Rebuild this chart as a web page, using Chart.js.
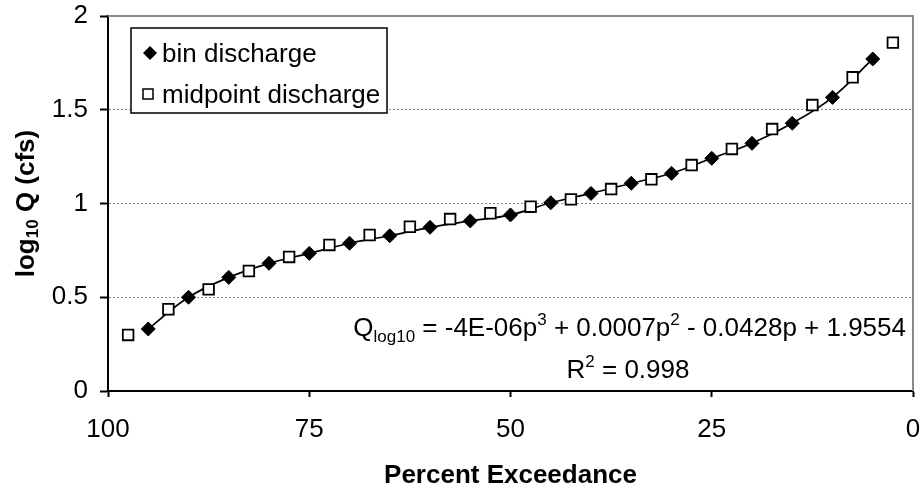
<!DOCTYPE html>
<html>
<head>
<meta charset="utf-8">
<script src="https://cdn.jsdelivr.net/npm/chart.js@4.4.1/dist/chart.umd.min.js"></script>
<style>
  html, body { margin: 0; padding: 0; background: #fff; }
  #wrap { width: 924px; height: 486px; }
</style>
</head>
<body>
<div id="wrap"><canvas id="chart" width="924" height="486"></canvas></div>
<script>
const binExceedance = [95, 90, 85, 80, 75, 70, 65, 60, 55, 50, 45, 40, 35, 30, 25, 20, 15, 10, 5];
const binLogQ = [0.331, 0.50, 0.606, 0.681, 0.734, 0.788, 0.828, 0.873, 0.907, 0.939, 1.004, 1.054, 1.108, 1.161, 1.241, 1.321, 1.428, 1.566, 1.771];

const midExceedance = [97.5, 92.5, 87.5, 82.5, 77.5, 72.5, 67.5, 62.5, 57.5, 52.5, 47.5, 42.5, 37.5, 32.5, 27.5, 22.5, 17.5, 12.5, 7.5, 2.5];
const midLogQ = [0.299, 0.436, 0.542, 0.64, 0.715, 0.779, 0.832, 0.876, 0.917, 0.948, 0.983, 1.022, 1.077, 1.129, 1.205, 1.291, 1.397, 1.525, 1.673, 1.858];

const xTicks = [100, 75, 50, 25, 0];
const yTicks = [0, 0.5, 1, 1.5, 2];

const seriesNames = ['bin discharge', 'midpoint discharge'];

const FONT = '"Liberation Sans", Arial, sans-serif';
const FS = 26;
Chart.defaults.font.family = FONT;
Chart.defaults.font.size = FS;
Chart.defaults.color = '#000';

const toPoints = (xs, ys) => xs.map((x, i) => ({ x: x, y: ys[i] }));

// draws text made of pieces: [text, size, dy, bold]
function drawRich(ctx, parts, x, y, align) {
    let total = 0;
    parts.forEach(p => {
        ctx.font = (p[3] ? 'bold ' : '') + p[1] + 'px ' + FONT;
        total += ctx.measureText(p[0]).width;
    });
    let cx = x;
    if (align === 'right') cx = x - total;
    if (align === 'center') cx = x - total / 2;
    ctx.textAlign = 'left';
    ctx.textBaseline = 'alphabetic';
    parts.forEach(p => {
        ctx.font = (p[3] ? 'bold ' : '') + p[1] + 'px ' + FONT;
        ctx.fillText(p[0], cx, y + p[2]);
        cx += ctx.measureText(p[0]).width;
    });
}

const decorations = {
    id: 'decorations',
    afterDraw(chart) {
        const ctx = chart.ctx;
        const a = chart.chartArea;
        ctx.save();

        // grey frame top/right
        ctx.strokeStyle = '#8a8a8a';
        ctx.lineWidth = 2;
        ctx.beginPath();
        ctx.moveTo(a.left, a.top);
        ctx.lineTo(a.right, a.top);
        ctx.lineTo(a.right, a.bottom);
        ctx.stroke();

        // legend
        const lx = 131, ly = 28, lw = 256, lh = 85;
        ctx.fillStyle = '#fff';
        ctx.fillRect(lx, ly, lw, lh);
        ctx.strokeStyle = '#000';
        ctx.lineWidth = 1.5;
        ctx.strokeRect(lx, ly, lw, lh);

        ctx.fillStyle = '#000';
        ctx.beginPath();
        ctx.moveTo(150, 46); ctx.lineTo(157, 53); ctx.lineTo(150, 60); ctx.lineTo(143, 53);
        ctx.closePath();
        ctx.fill();

        ctx.fillStyle = '#fff';
        ctx.fillRect(143, 89, 10, 10);
        ctx.strokeStyle = '#000';
        ctx.lineWidth = 1.5;
        ctx.strokeRect(143, 89, 10, 10);

        ctx.fillStyle = '#000';
        drawRich(ctx, [[seriesNames[0], FS, 0]], 162, 62, 'left');
        drawRich(ctx, [[seriesNames[1], FS, 0]], 162, 103, 'left');

        // trendline label
        drawRich(ctx, [
            ['Q', FS, 0], ['log10', 17, 6], [' = -4E-06p', FS, 0], ['3', 17, -11],
            [' + 0.0007p', FS, 0], ['2', 17, -11], [' - 0.0428p + 1.9554', FS, 0]
        ], 906, 336, 'right');
        drawRich(ctx, [['R', FS, 0], ['2', 17, -11], [' = 0.998', FS, 0]], 628, 378, 'center');

        // axis titles
        drawRich(ctx, [['Percent Exceedance', FS, 0, true]], (a.left + a.right) / 2, 483, 'center');
        ctx.translate(34, (a.top + a.bottom) / 2);
        ctx.rotate(-Math.PI / 2);
        drawRich(ctx, [['log', FS, 0, true], ['10', 17, 4, true], [' Q (cfs)', FS, 0, true]], 0, 0, 'center');
        ctx.restore();
    }
};

new Chart(document.getElementById('chart'), {
    type: 'scatter',
    data: {
        datasets: [
            {
                label: seriesNames[1],
                data: toPoints(midExceedance, midLogQ),
                showLine: false,
                pointStyle: 'rect',
                pointRadius: 7.5,
                pointBackgroundColor: '#fff',
                pointBorderColor: '#000',
                pointBorderWidth: 1.8,
                order: 0
            },
            {
                label: seriesNames[0],
                data: toPoints(binExceedance, binLogQ),
                showLine: true,
                borderColor: '#000',
                borderWidth: 1.7,
                tension: 0.4,
                pointStyle: 'rectRot',
                pointRadius: 7,
                pointBackgroundColor: '#000',
                pointBorderColor: '#000',
                pointBorderWidth: 1,
                order: 1
            }
        ]
    },
    options: {
        responsive: false,
        animation: false,
        layout: { padding: { left: 0, right: 11, top: 16, bottom: 0 } },
        plugins: {
            legend: { display: false },
            tooltip: { enabled: false }
        },
        scales: {
            x: {
                type: 'linear',
                reverse: true,
                min: 0,
                max: 100,
                afterBuildTicks: s => { s.ticks = xTicks.map(v => ({ value: v })); },
                afterFit: s => { s.height = 95; s.paddingLeft = 0; s.paddingRight = 0; },
                grid: { drawOnChartArea: false, tickLength: 6, tickColor: '#000', tickWidth: 2 },
                border: { display: true, color: '#000', width: 2 },
                ticks: { padding: 17, maxRotation: 0, font: { size: FS } }
            },
            y: {
                min: 0,
                max: 2,
                afterBuildTicks: s => { s.ticks = yTicks.map(v => ({ value: v })); },
                afterFit: s => { s.width = 108; s.paddingTop = 0; s.paddingBottom = 0; },
                grid: { color: '#8a8a8a', lineWidth: 1, tickLength: 8, tickColor: '#000', tickWidth: 2 },
                border: { display: true, color: '#000', width: 2, dash: [2, 2] },
                ticks: { padding: 12, font: { size: FS }, callback: v => String(v) }
            }
        }
    },
    plugins: [decorations]
});
</script>
</body>
</html>
